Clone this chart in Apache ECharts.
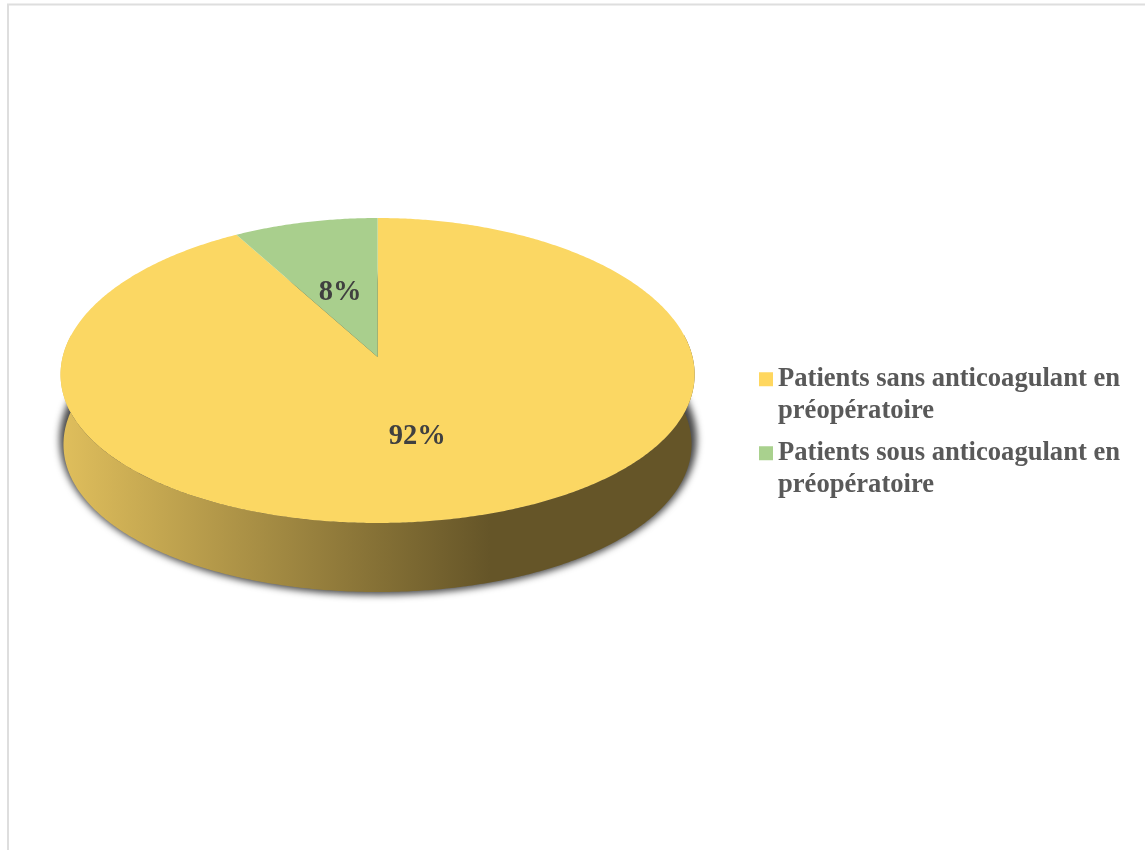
<!DOCTYPE html>
<html>
<head>
<meta charset="utf-8">
<style>html,body{margin:0;padding:0;background:#fff}#c{width:1145px;height:850px}</style>
<script src="https://cdn.jsdelivr.net/npm/echarts@6/dist/echarts.min.js"></script>
</head>
<body>
<div id="c"></div>
<script>
const categories = ['Patients sans anticoagulant en préopératoire', 'Patients sous anticoagulant en préopératoire'];
const values = [92, 8];
const labels = ['92%', '8%'];
const colors = ['#FBD763', '#A9CF8D'];
const legendColors = ['#FFD75F', '#A9D18E'];

const FONT = '"Liberation Serif"';
const total = values.reduce((a, b) => a + b, 0);
const K = 0.0885;
const TOP = { cx: 377.6, cy: 357, rx: 315.8, ry: 151.3, midY: 370.5, sag: 4 };
const BOTTOM = { cx: 377.5, cy: 427, rx: 312.8, ry: 150.4, midY: 440, sag: 4 };
const SHADOW = { cx: 378.25, cy: 421.6, rx: 317.3, ry: 158.3, midY: 435.7, sag: 4 };
const SHADOW_SHIFT = 3000;

function project(d, deg, f) {
  const t = deg * Math.PI / 180, r = f === undefined ? 1 : f;
  const u = Math.sin(t) * r, v = Math.cos(t) * r, w = 1 + K * v;
  return [d.cx + d.rx * u / w, d.cy - d.ry * v / w];
}
function arc(d, a, b) {
  const n = Math.max(2, Math.ceil(Math.abs(b - a) * 2)), pts = [];
  for (let i = 0; i <= n; i++) {
    const p = project(d, a + (b - a) * i / n);
    const s = (p[1] - d.midY) / 152.5;
    p[1] += d.sag * (1 - s * s);
    pts.push(p);
  }
  return pts;
}
const wallFill = {
  type: 'linear', x: 63, y: 0, x2: 490, y2: 0, global: true,
  colorStops: [{ offset: 0, color: '#DFBE5C' }, { offset: 1, color: '#655528' }]
};

function renderer(index) {
  return function (params, api) {
    const before = values.slice(0, index).reduce((a, b) => a + b, 0);
    const a0 = before / total * 360;
    const a1 = a0 + api.value(0) / total * 360;
    const children = [];
    if (index === 0) {
      children.push({
        type: 'polygon', silent: true,
        shape: { points: arc(SHADOW, 0, 360).map(p => [p[0] - SHADOW_SHIFT, p[1]]) },
        style: { fill: '#444', shadowBlur: 7, shadowColor: '#484848', shadowOffsetX: SHADOW_SHIFT, shadowOffsetY: 0 }
      });
    }
    const w0 = Math.max(a0, 80), w1 = Math.min(a1, 280);
    if (w1 > w0) {
      children.push({
        type: 'polygon',
        shape: { points: arc(TOP, w0, w1).concat(arc(BOTTOM, w1, w0)) },
        style: { fill: wallFill }
      });
    }
    children.push({
      type: 'polygon',
      shape: { points: [[TOP.cx, TOP.cy]].concat(arc(TOP, a0, a1)) },
      style: { fill: colors[index] }
    });
    return { type: 'group', children };
  };
}
function labelRenderer(params, api) {
  const i = params.dataIndex;
  const before = values.slice(0, i).reduce((a, b) => a + b, 0);
  const mid = (before + api.value(0) / 2) / total * 360;
  const p = project(TOP, mid, 0.49);
  return {
    type: 'text', silent: true, x: p[0] - 0.5, y: p[1] + 5,
    style: { text: labels[i], fill: '#404040', font: 'bold 28.5px ' + FONT, align: 'center', verticalAlign: 'middle' }
  };
}

const series = categories.map((name, i) => ({
  type: 'custom', name, coordinateSystem: 'none', animation: false,
  itemStyle: { color: legendColors[i] },
  renderItem: renderer(i),
  data: [[values[i]]]
}));
series.push({
  type: 'custom', name: 'labels', coordinateSystem: 'none', animation: false, z: 5,
  renderItem: labelRenderer,
  data: values.map(v => [v])
});

const chart = echarts.init(document.getElementById('c'), null, { renderer: 'canvas' });
chart.setOption({
  backgroundColor: '#fff',
  animation: false,
  legend: {
    data: categories,
    orient: 'vertical',
    left: 759,
    top: 332,
    padding: 0,
    icon: 'rect',
    itemWidth: 14,
    itemHeight: 14,
    itemGap: -20.5,
    selectedMode: false,
    formatter: n => '\n' + n.replace(' en préopératoire', ' en\npréopératoire'),
    textStyle: { fontFamily: FONT, fontWeight: 'bold', fontSize: 26.6, lineHeight: 31.5, color: '#595959' }
  },
  graphic: [{
    type: 'rect', silent: true, z: -1,
    shape: { x: 8, y: 4.5, width: 1300, height: 1000 },
    style: { fill: 'none', stroke: '#DEDEDE', lineWidth: 2 }
  }],
  series
});
</script>
</body>
</html>
